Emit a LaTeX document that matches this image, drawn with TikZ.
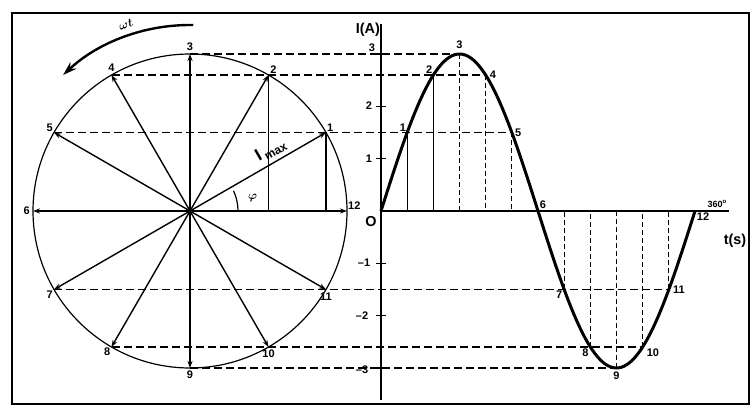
\documentclass[tikz,border=0pt]{standalone}
\usepackage{amsmath}
\usepackage{fontspec}
\setmainfont{Liberation Sans}
\usetikzlibrary{arrows.meta,positioning,calc}

\begin{document}
\begin{tikzpicture}[x=1pt, y=1pt, >={Stealth[length=7pt,width=5pt]}, font=\bfseries\fontsize{11}{13}\selectfont]
  \tikzset{vec/.style={->, line width=1.4pt},
    proj/.style={line width=1.5pt, dash pattern=on 8pt off 4pt},
    drop/.style={line width=1.3pt, dash pattern=on 5pt off 3pt},
    lbl/.style={inner sep=1pt},
    axis/.style={line width=1.6pt}}
  \useasboundingbox (0,0) rectangle (751,412);
  \draw[line width=1.6pt] (12,8) rectangle (749,399);
  % phasor circle
  \coordinate (c) at (190,201);
  \draw[line width=1.2pt] (c) circle (157);
  \foreach \k in {1,...,12} {
    \coordinate (p\k) at ($(c)+({\k*30}:157)$);
    \coordinate (g\k) at ({381+\k*26.1667}, {201+157*sin(\k*30)});
    \draw[vec] (c) -- (p\k);
  }
  \draw[line width=1.3pt] (p1) -- (p1 |- c);
  \draw[line width=1.3pt] (p2) -- (p2 |- c);
  \draw[line width=1.2pt] ($(c)+(0:48)$) arc (0:25:48);
  \node[lbl, font=\large] (phi) at ($(c)+(12:64)$) {$\boldsymbol{\varphi}$};
  \path (c) -- (p1) node[pos=0.64, sloped, above=1pt, font=\bfseries\LARGE] (imax) {I\kern2.5pt\raisebox{-0.45ex}{\large max}};
  \draw[->, line width=2.4pt, >={Stealth[length=14pt,width=9pt]}] ($(c)+(89:186)$) arc (89:133:186);
  \node[lbl, rotate=19, font=\large] (omega) at ($(c)+(109:197)$) {$\boldsymbol{\omega t}$};
  % circle labels
  \node[lbl, above=2pt of p3] (l3) {3};
  \node[lbl, above=2pt of p4] (l4) {4};
  \node[lbl, above right=1pt of p2] (l2) {2};
  \node[lbl, above left=0pt of p5] (l5) {5};
  \node[lbl, above right=0pt of p1] (l1) {1};
  \node[lbl, left=2pt of p6] (l6) {6};
  \node[lbl, above right=0pt of p12] (l12) {12};
  \node[lbl, below left=0pt of p7] (l7) {7};
  \node[lbl, below=2pt of p11] (l11) {11};
  \node[lbl, below left=0pt of p8] (l8) {8};
  \node[lbl, below=2pt of p10] (l10) {10};
  \node[lbl, below=2pt of p9] (l9) {9};
  % graph axes
  \coordinate (o) at (381,201);
  \coordinate (ytop) at (381,388);
  \coordinate (ybot) at (381,12);
  \coordinate (xend) at (729,201);
  \draw[axis] (ybot) -- (ytop);
  \draw[axis] (o) -- (xend);
  \foreach \v in {-3,-2,-1,1,2,3}
    \draw[line width=1.3pt] (376,{201+52.33*\v}) -- (386,{201+52.33*\v});
  \node[lbl, font=\bfseries\Large, left=0pt of ytop, yshift=-6pt] (ia) {I(A)};
  \node[lbl] (t3) at (372,364) {3};
  \node[lbl] (t2) at (369,306) {2};
  \node[lbl] (t1) at (369,253) {1};
  \node[lbl, font=\bfseries\Large] (t0) at (371,190) {O};
  \node[lbl] (tm1) at (364,149) {--1};
  \node[lbl] (tm2) at (362,96) {--2};
  \node[lbl] (tm3) at (362,42) {--3};
  \node[lbl, font=\bfseries\small, above left=2pt and 1pt of xend] (deg) {360\textsuperscript{o}};
  \node[lbl, font=\bfseries\Large] (ts) at (735,171) {t(s)};
  % projections
  \draw[proj] (p5) -- (g5);
  \draw[proj] (p4) -- (g4);
  \draw[proj] (p3) -- (g3);
  \draw[proj] (p7) -- (g11);
  \draw[proj] (p8) -- (g10);
  \draw[proj] (p9) -- (g9);
  \draw[line width=1.3pt] (g1) -- (g1 |- o);
  \draw[line width=1.3pt] (g2) -- (g2 |- o);
  \foreach \k in {3,4,5,7,8,9,10,11}
    \draw[drop] (g\k) -- (g\k |- o);
  % sine wave
  \draw[line width=3pt] plot[domain=0:360, samples=120] ({381+\x*0.87222},{201+157*sin(\x)});
  % graph labels
  \node[lbl, above left=0pt of g1] (m1) {1};
  \node[lbl, above left=0pt of g2] (m2) {2};
  \node[lbl, above=4pt of g3] (m3) {3};
  \node[lbl, right=3pt of g4] (m4) {4};
  \node[lbl, right=2pt of g5] (m5) {5};
  \node[lbl, above right=1pt of g6] (m6) {6};
  \node[lbl, below left=1pt of g7] (m7) {7};
  \node[lbl, below left=1pt of g8] (m8) {8};
  \node[lbl, below=3pt of g9] (m9) {9};
  \node[lbl, right=3pt of g10, yshift=-6pt] (m10) {10};
  \node[lbl, right=3pt of g11] (m11) {11};
  \node[lbl, below right=1pt of g12] (m12) {12};
\end{tikzpicture}
\end{document}
